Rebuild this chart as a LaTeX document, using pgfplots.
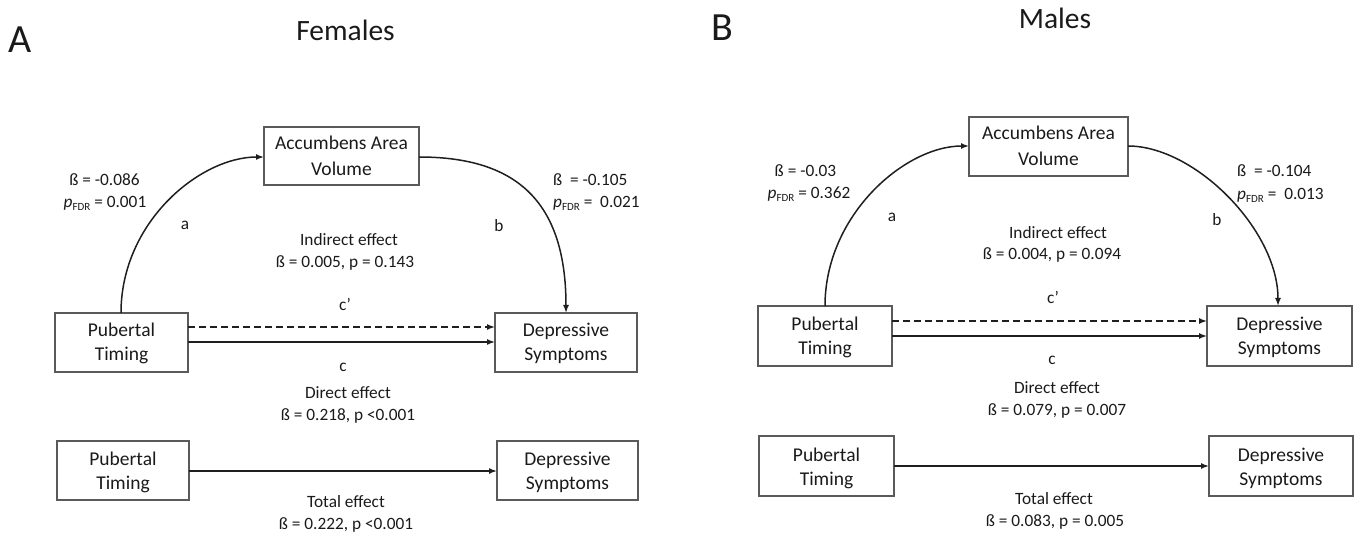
\documentclass[border=0pt]{standalone}
\usepackage{fontspec}
\setmainfont{Carlito}
\usepackage{pgfplots}
\pgfplotsset{compat=1.18}
\usetikzlibrary{arrows.meta}
\definecolor{txt}{HTML}{1A1A1A}
\definecolor{boxc}{HTML}{5A5A5A}
\definecolor{ln}{HTML}{1F1F1F}
\newcommand{\pfdr}{\textit{p}\raisebox{-0.35ex}{\fontsize{11}{11}\selectfont FDR}}
\tikzset{
  t/.style={anchor=base, inner sep=0pt, text=txt, font=\fontsize{17.3}{20}\selectfont},
  tw/.style={t, anchor=base west},
  bt/.style={t, font=\fontsize{19.5}{22}\selectfont},
  box/.style={draw=boxc, line width=1.2pt},
  arr/.style={draw=ln, line width=1.5pt, -{Latex[length=8pt,width=6pt]}},
}
\begin{document}
\begin{tikzpicture}
\begin{axis}[scale only axis, width=1365pt, height=534pt,
  xmin=0, xmax=1365, ymin=0, ymax=534, y dir=reverse,
  hide axis, clip=false]
\coordinate (SW) at (rel axis cs:0,0);
\coordinate (NE) at (rel axis cs:1,1);

% ---------------- Panel A: Females ----------------
\node[t, font=\fontsize{40}{40}\selectfont] at (axis cs:20.5,53) {A};
\node[t, font=\fontsize{29.5}{30}\selectfont] at (axis cs:345.5,41) {Females};

\draw[box] (axis cs:264,127) rectangle (axis cs:419,185);
\node[bt] at (axis cs:341.5,150) {Accumbens Area};
\node[bt] at (axis cs:341.5,176) {Volume};

\node[t] at (axis cs:104.5,186) {ß = -0.086};
\node[t] at (axis cs:105,208) {\pfdr{} = 0.001};
\node[t] at (axis cs:185,230) {a};
\node[t] at (axis cs:499,232) {b};
\node[tw] at (axis cs:553,186) {ß\ \ = -0.105};
\node[tw] at (axis cs:553,208) {\pfdr{} =\ \ 0.021};

\node[t] at (axis cs:349,246) {Indirect effect};
\node[t] at (axis cs:345,268) {ß = 0.005, p = 0.143};

\draw[box] (axis cs:55,313) rectangle (axis cs:188,372);
\node[bt] at (axis cs:121.5,337) {Pubertal};
\node[bt] at (axis cs:121.5,361) {Timing};
\draw[box] (axis cs:495,313) rectangle (axis cs:637,372);
\node[bt] at (axis cs:566,337) {Depressive};
\node[bt] at (axis cs:566,361) {Symptoms};

\node[t] at (axis cs:345,311) {c’};
\addplot[arr, mark=none, dash pattern=on 7pt off 4pt] coordinates {(188,327) (495,327)};
\addplot[arr, mark=none] coordinates {(188,342) (495,342)};
\node[t] at (axis cs:343,371) {c};
\node[t] at (axis cs:348,398) {Direct effect};
\node[t] at (axis cs:348,420) {ß = 0.218, p <0.001};

\draw[arr] (axis cs:121,313) .. controls (axis cs:121,222) and (axis cs:200,157) .. (axis cs:264,157);
\draw[arr] (axis cs:419,157) .. controls (axis cs:515,157) and (axis cs:566,200) .. (axis cs:566,313);

\draw[box] (axis cs:57,441) rectangle (axis cs:189,500);
\node[bt] at (axis cs:123,465) {Pubertal};
\node[bt] at (axis cs:123,489) {Timing};
\draw[box] (axis cs:497,441) rectangle (axis cs:638,500);
\node[bt] at (axis cs:567.5,465) {Depressive};
\node[bt] at (axis cs:567.5,489) {Symptoms};
\addplot[arr, mark=none] coordinates {(189,471) (497,471)};
\node[t] at (axis cs:346,507) {Total effect};
\node[t] at (axis cs:346,529) {ß = 0.222, p <0.001};

% ---------------- Panel B: Males ----------------
\node[t, font=\fontsize{40}{40}\selectfont] at (axis cs:722,41) {B};
\node[t, font=\fontsize{29.5}{30}\selectfont] at (axis cs:1055,29) {Males};

\draw[box] (axis cs:969,117) rectangle (axis cs:1128,176);
\node[bt] at (axis cs:1048.5,140) {Accumbens Area};
\node[bt] at (axis cs:1048.5,166) {Volume};

\node[t] at (axis cs:805.5,177) {ß = -0.03};
\node[t] at (axis cs:809,199) {\pfdr{} = 0.362};
\node[t] at (axis cs:892,222) {a};
\node[t] at (axis cs:1217,226) {b};
\node[tw] at (axis cs:1237,177) {ß\ \ = -0.104};
\node[tw] at (axis cs:1237,200) {\pfdr{} =\ \ 0.013};

\node[t] at (axis cs:1058,239) {Indirect effect};
\node[t] at (axis cs:1052,260) {ß = 0.004, p = 0.094};

\draw[box] (axis cs:758,306) rectangle (axis cs:892,366);
\node[bt] at (axis cs:825,331) {Pubertal};
\node[bt] at (axis cs:825,355) {Timing};
\draw[box] (axis cs:1207,306) rectangle (axis cs:1352,366);
\node[bt] at (axis cs:1279.5,331) {Depressive};
\node[bt] at (axis cs:1279.5,355) {Symptoms};

\node[t] at (axis cs:1053,304) {c’};
\addplot[arr, mark=none, dash pattern=on 7pt off 4pt] coordinates {(892,321) (1207,321)};
\addplot[arr, mark=none] coordinates {(892,336) (1207,336)};
\node[t] at (axis cs:1052,364) {c};
\node[t] at (axis cs:1057,393) {Direct effect};
\node[t] at (axis cs:1057,415) {ß = 0.079, p = 0.007};

\draw[arr] (axis cs:825,306) .. controls (axis cs:825,215) and (axis cs:905,146) .. (axis cs:969,146);
\draw[arr] (axis cs:1128,146) .. controls (axis cs:1195,146) and (axis cs:1278,230) .. (axis cs:1278,306);

\draw[box] (axis cs:759,436) rectangle (axis cs:894,496);
\node[bt] at (axis cs:826.5,461) {Pubertal};
\node[bt] at (axis cs:826.5,485) {Timing};
\draw[box] (axis cs:1209,436) rectangle (axis cs:1353,496);
\node[bt] at (axis cs:1281,461) {Depressive};
\node[bt] at (axis cs:1281,485) {Symptoms};
\addplot[arr, mark=none] coordinates {(894,466) (1209,466)};
\node[t] at (axis cs:1054,504) {Total effect};
\node[t] at (axis cs:1055,526) {ß = 0.083, p = 0.005};
\end{axis}
\pgfresetboundingbox
\path[use as bounding box] (SW) rectangle (NE);
\end{tikzpicture}
\end{document}
